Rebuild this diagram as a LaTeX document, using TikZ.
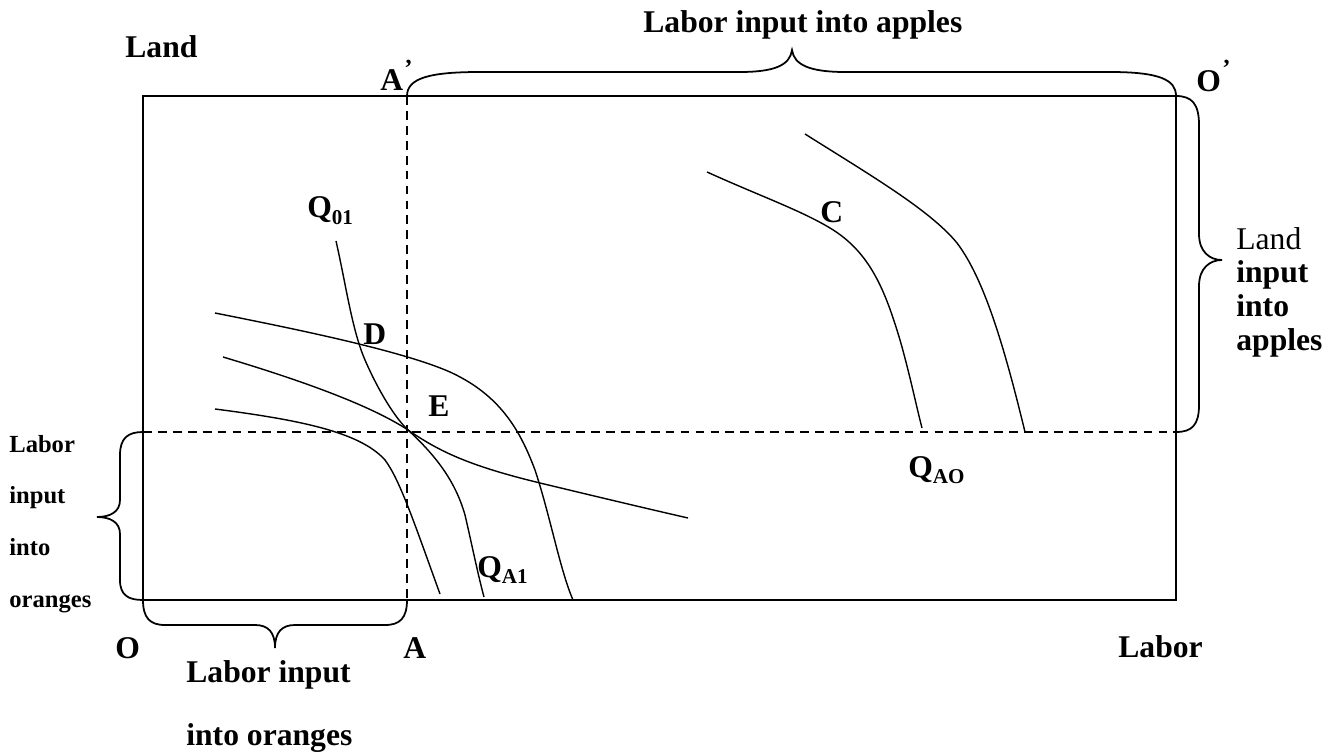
\documentclass[tikz,border=0pt]{standalone}
\usepackage{fontspec}
\setmainfont{Liberation Serif}
\begin{document}
\begin{tikzpicture}[x=0.02cm,y=-0.02cm,
  lbl/.style={anchor=base west,inner sep=0pt,font=\fontsize{18}{18}\selectfont\bfseries},
  side/.style={anchor=base west,inner sep=0pt,font=\fontsize{14}{14}\selectfont\bfseries},
  prime/.style={anchor=base west,inner sep=0pt,font=\fontsize{14}{14}\selectfont\bfseries},
  frame/.style={line width=1pt},
  curve/.style={line width=0.8pt},
  brace/.style={line width=1pt},
  guide/.style={line width=0.9pt,dash pattern=on 5pt off 3.5pt}]
\useasboundingbox (0,0) rectangle (1334,756);
% corners
\coordinate (BL) at (143,600);
\coordinate (TR) at (1176,96);
\coordinate (At) at (407,96);
\coordinate (Ab) at (407,600);
\coordinate (Ll) at (143,432);
\coordinate (Lr) at (1176,432);
% frame
\draw[frame] (BL) rectangle (TR);
% guides
\draw[guide] (At) -- (Ab);
\draw[guide] (Ll) -- (Lr);
% braces
\draw[brace] (At) .. controls (407,78) and (430,72) .. (480,72) -- (740,72)
  .. controls (775,72) and (790,65) .. (792,50)
  .. controls (794,65) and (810,72) .. (845,72) -- (1110,72)
  .. controls (1160,72) and (1176,80) .. (TR);
\draw[brace] (TR) .. controls (1192,96) and (1199,104) .. (1199,125) -- (1199,234)
  .. controls (1199,252) and (1210,260) .. (1222,260)
  .. controls (1210,260) and (1199,268) .. (1199,286) -- (1199,405)
  .. controls (1199,425) and (1192,432) .. (Lr);
\draw[brace] (Ll) .. controls (128,432) and (120,438) .. (120,455) -- (120,500)
  .. controls (120,512) and (110,517) .. (97,517)
  .. controls (110,517) and (120,522) .. (120,534) -- (120,580)
  .. controls (120,595) and (128,600) .. (BL);
\draw[brace] (BL) .. controls (143,618) and (150,625) .. (165,625) -- (255,625)
  .. controls (268,625) and (275,632) .. (275,648)
  .. controls (275,632) and (282,625) .. (295,625) -- (385,625)
  .. controls (400,625) and (407,618) .. (Ab);
% isoquants
\draw[curve] (336,241) .. controls (346,285) and (352,330) .. (365,360)
  .. controls (378,390) and (395,418) .. (408,430)
  .. controls (435,455) and (455,480) .. (465,515)
  .. controls (472,545) and (478,575) .. (484,597);
\draw[curve] (215,313) .. controls (290,328) and (400,350) .. (450,372)
  .. controls (500,395) and (520,430) .. (535,470)
  .. controls (550,515) and (560,570) .. (573,600);
\draw[curve] (223,357) .. controls (300,380) and (370,405) .. (408,430)
  .. controls (440,452) and (470,466) .. (540,483)
  .. controls (590,495) and (640,507) .. (688,518);
\draw[curve] (215,409) .. controls (300,420) and (360,432) .. (385,460)
  .. controls (400,480) and (415,525) .. (440,594);
\draw[curve] (707,172) .. controls (760,196) and (800,210) .. (830,228)
  .. controls (870,252) and (885,290) .. (900,340)
  .. controls (910,375) and (916,405) .. (922,428);
\draw[curve] (805,134) .. controls (870,175) and (930,210) .. (957,243)
  .. controls (985,280) and (1005,350) .. (1025,432);
% labels
\node[lbl] (land) at (125,58) {Land};
\node[lbl] (Ap) at (380,91) {A};
\node[prime] (Apr) at (404,77) {’};
\node[lbl] (lia) at (643,33) {Labor input into apples};
\node[lbl] (Op) at (1196,92) {O};
\node[prime] (Opr) at (1222,77) {’};
\node[anchor=base west,inner sep=0pt,font=\fontsize{18}{18}\selectfont] (rl1) at (1236,250) {Land};
\node[lbl] (rl2) at (1236,283) {input};
\node[lbl] (rl3) at (1236,317) {into};
\node[lbl] (rl4) at (1236,351) {apples};
\node[side] (ll1) at (9,452) {Labor};
\node[side] (ll2) at (9,503) {input};
\node[side] (ll3) at (9,555) {into};
\node[side] (ll4) at (9,607) {oranges};
\node[lbl] (O) at (115,658) {O};
\node[lbl] (A) at (403,658) {A};
\node[lbl] (labor) at (1118,657) {Labor};
\node[lbl] (lio1) at (186,682) {Labor input};
\node[lbl] (lio2) at (186,745) {into oranges};
\node[lbl] (Q01) at (307,218) {Q\raisebox{-3.5pt}{\fontsize{12}{12}\selectfont 01}};
\node[lbl] (QA1) at (477,577) {Q\raisebox{-3.5pt}{\fontsize{12}{12}\selectfont A1}};
\node[lbl] (QAO) at (908,477) {Q\raisebox{-3.5pt}{\fontsize{12}{12}\selectfont AO}};
\node[lbl] (C) at (820,223) {C};
\node[lbl] (D) at (363,345) {D};
\node[lbl] (E) at (428,417) {E};
\end{tikzpicture}
\end{document}
